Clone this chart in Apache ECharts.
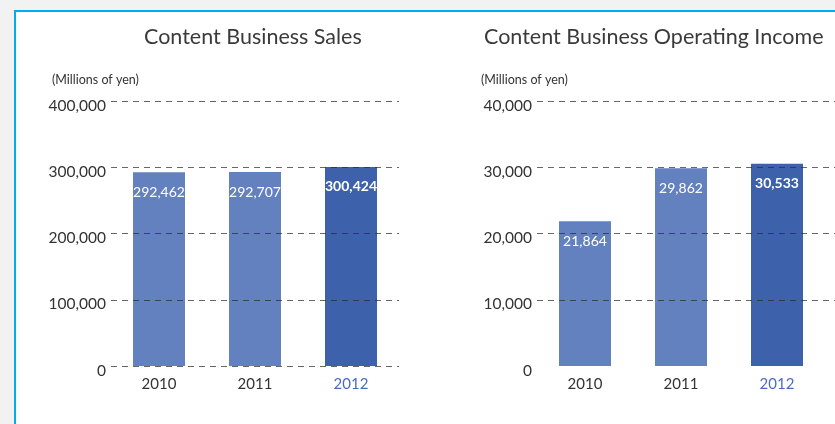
<!DOCTYPE html>
<html>
<head>
<meta charset="utf-8">
<script src="https://cdn.jsdelivr.net/npm/echarts@6/dist/echarts.min.js"></script>
<style>
  html, body { margin: 0; padding: 0; background: #f2f2f2; }
  #panel {
    position: absolute; left: 14px; top: 10px; width: 840px; height: 430px;
    background: #ffffff; border-left: 2px solid #00aeef; border-top: 2px solid #00aeef;
  }
  #chart { position: absolute; left: 0; top: 0; width: 835px; height: 424px; }
</style>
</head>
<body>
<div id="panel"></div>
<div id="chart"></div>
<script>
// Fiscal years shown on both charts
const years = ['2010', '2011', '2012'];
// Content business sales, millions of yen
const salesValues = [292462, 292707, 300424];
// Content business operating income, millions of yen
const incomeValues = [21864, 29862, 30533];
// Value axis ticks
const salesTicks = [0, 100000, 200000, 300000, 400000];
const incomeTicks = [0, 10000, 20000, 30000, 40000];

const FONT = 'Lato, "Open Sans", sans-serif';
const LIGHT = '#6381be';
const DARK = '#3d61ab';
const GRIDLINE = 'rgba(45,45,45,0.72)';
const fmt = v => Number(v).toLocaleString('en-US');

function barData(values) {
  return values.map((v, i) => {
    const latest = i === values.length - 1;
    return {
      value: v,
      itemStyle: { color: latest ? DARK : LIGHT },
      label: { fontWeight: latest ? 'bold' : 'normal' }
    };
  });
}

function yAxisFor(gridIndex, ticks, lineColors, showLines, showLabels) {
  return {
    type: 'value', gridIndex: gridIndex,
    min: ticks[0], max: ticks[ticks.length - 1], interval: ticks[1] - ticks[0],
    z: 5,
    axisLine: { show: false }, axisTick: { show: false },
    axisLabel: {
      show: showLabels, margin: 5,
      formatter: v => '{t|' + fmt(v) + '}',
      rich: { t: { color: '#333', fontSize: 15.5, fontFamily: FONT, padding: [9, 0, 0, 0] } }
    },
    splitLine: {
      show: showLines,
      lineStyle: { color: lineColors, type: [6, 5], width: 1 }
    }
  };
}

function xAxisFor(gridIndex) {
  return {
    type: 'category', gridIndex: gridIndex, data: years,
    axisLine: { show: false }, axisTick: { show: false },
    axisLabel: {
      margin: 11, fontSize: 15, fontFamily: FONT,
      color: function (v) { return v === years[years.length - 1] ? '#4a6cbf' : '#333'; }
    }
  };
}

const labelStyle = {
  show: true, position: 'insideTop', distance: 13,
  color: '#ffffff', fontSize: 14, fontFamily: FONT, formatter: p => fmt(p.value)
};

const titleText = { fontSize: 21.5, fontWeight: 'normal', color: '#3a3a3a', fontFamily: FONT };
const unitText = { fontSize: 12.5, fontWeight: 'normal', color: '#333', fontFamily: FONT };

const option = {
  animation: false,
  title: [
    { text: 'Content Business Sales', left: 144, top: 26, padding: 0, textStyle: titleText },
    { text: 'Content Business Operating Income', left: 484, top: 26, padding: 0, textStyle: titleText },
    { text: '(Millions of yen)', left: 52, top: 73, padding: 0, textStyle: unitText },
    { text: '(Millions of yen)', left: 481, top: 73, padding: 0, textStyle: unitText }
  ],
  grid: [
    { left: 111, width: 288, top: 101, height: 265 },
    { left: 537, width: 288, top: 101, height: 265 },
    // wider band carrying the income chart's dashed guides to the panel edge
    { left: 537, width: 320, top: 101, height: 265 }
  ],
  xAxis: [
    xAxisFor(0),
    xAxisFor(1),
    { type: 'value', gridIndex: 2, show: false }
  ],
  yAxis: [
    yAxisFor(0, salesTicks, GRIDLINE, true, true),
    yAxisFor(1, incomeTicks, GRIDLINE, false, true),
    yAxisFor(2, incomeTicks, ['rgba(0,0,0,0)', GRIDLINE, GRIDLINE, GRIDLINE, GRIDLINE], true, false)
  ],
  series: [
    { type: 'bar', xAxisIndex: 0, yAxisIndex: 0, barWidth: 52,
      data: barData(salesValues), label: labelStyle },
    { type: 'bar', xAxisIndex: 1, yAxisIndex: 1, barWidth: 52,
      data: barData(incomeValues), label: labelStyle }
  ]
};

const chart = echarts.init(document.getElementById('chart'), null, { renderer: 'canvas' });
chart.setOption(option);
</script>
</body>
</html>
